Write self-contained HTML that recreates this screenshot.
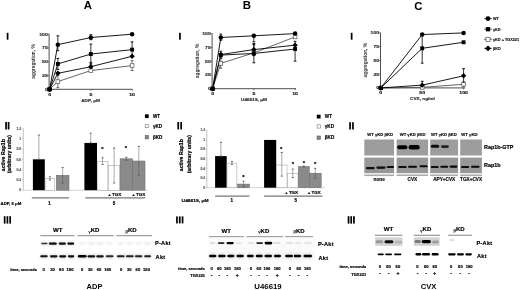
<!DOCTYPE html><html><head><meta charset="utf-8"><style>html,body{margin:0;padding:0;background:#fff;overflow:hidden}svg{display:block;filter:grayscale(1)}text{font-family:'Liberation Sans', sans-serif}</style></head><body>
<svg width="520" height="290" viewBox="0 0 520 290">
<rect width="520" height="290" fill="#fff"/>
<text x="87.9" y="8.9" font-size="11.4" text-anchor="middle" font-weight="bold" fill="#000" >A</text>
<text x="246.9" y="9.4" font-size="11.4" text-anchor="middle" font-weight="bold" fill="#000" >B</text>
<text x="418.3" y="9.6" font-size="11.4" text-anchor="middle" font-weight="bold" fill="#000" >C</text>
<defs><filter id="rb" x="-50%" y="-20%" width="200%" height="140%"><feGaussianBlur stdDeviation="0.25"/></filter></defs>
<rect x="6.75" y="32.8" width="1.7" height="6.900000000000006" fill="#000" filter="url(#rb)"/>
<rect x="179.1" y="32.8" width="1.7" height="6.900000000000006" fill="#000" filter="url(#rb)"/>
<rect x="350.8" y="32.8" width="1.7" height="6.900000000000006" fill="#000" filter="url(#rb)"/>
<rect x="5.2" y="122.0" width="1.7" height="7.5" fill="#000" filter="url(#rb)"/>
<rect x="7.75" y="122.0" width="1.7" height="7.5" fill="#000" filter="url(#rb)"/>
<rect x="177.4" y="122.0" width="1.7" height="7.5" fill="#000" filter="url(#rb)"/>
<rect x="180.3" y="122.0" width="1.7" height="7.5" fill="#000" filter="url(#rb)"/>
<rect x="349.2" y="122.2" width="1.7" height="7.299999999999997" fill="#000" filter="url(#rb)"/>
<rect x="352.1" y="122.2" width="1.7" height="7.299999999999997" fill="#000" filter="url(#rb)"/>
<rect x="3.8" y="216.2" width="1.7" height="7.400000000000006" fill="#000" filter="url(#rb)"/>
<rect x="6.55" y="216.2" width="1.7" height="7.400000000000006" fill="#000" filter="url(#rb)"/>
<rect x="9.3" y="216.2" width="1.7" height="7.400000000000006" fill="#000" filter="url(#rb)"/>
<rect x="176.1" y="216.4" width="1.7" height="7.0" fill="#000" filter="url(#rb)"/>
<rect x="178.9" y="216.4" width="1.7" height="7.0" fill="#000" filter="url(#rb)"/>
<rect x="181.7" y="216.4" width="1.7" height="7.0" fill="#000" filter="url(#rb)"/>
<rect x="347.7" y="216.2" width="1.7" height="7.400000000000006" fill="#000" filter="url(#rb)"/>
<rect x="350.35" y="216.2" width="1.7" height="7.400000000000006" fill="#000" filter="url(#rb)"/>
<rect x="353.1" y="216.2" width="1.7" height="7.400000000000006" fill="#000" filter="url(#rb)"/>
<line x1="49.1" y1="33.900000000000006" x2="49.1" y2="89.3" stroke="#222" stroke-width="0.8"/>
<line x1="49.1" y1="89.3" x2="132.5" y2="89.3" stroke="#222" stroke-width="0.8"/>
<line x1="47.5" y1="89.3" x2="49.1" y2="89.3" stroke="#222" stroke-width="0.6"/>
<text transform="translate(47.800000000000004,90.8) scale(1.2,1)" font-size="4.3" text-anchor="end" font-weight="bold" fill="#333"  stroke="#333" stroke-width="0.18">0</text>
<line x1="47.5" y1="75.525" x2="49.1" y2="75.525" stroke="#222" stroke-width="0.6"/>
<text transform="translate(47.800000000000004,77.025) scale(1.2,1)" font-size="4.3" text-anchor="end" font-weight="bold" fill="#333"  stroke="#333" stroke-width="0.18">25</text>
<line x1="47.5" y1="61.75" x2="49.1" y2="61.75" stroke="#222" stroke-width="0.6"/>
<text transform="translate(47.800000000000004,63.25) scale(1.2,1)" font-size="4.3" text-anchor="end" font-weight="bold" fill="#333"  stroke="#333" stroke-width="0.18">50</text>
<line x1="47.5" y1="47.974999999999994" x2="49.1" y2="47.974999999999994" stroke="#222" stroke-width="0.6"/>
<text transform="translate(47.800000000000004,49.474999999999994) scale(1.2,1)" font-size="4.3" text-anchor="end" font-weight="bold" fill="#333"  stroke="#333" stroke-width="0.18">75</text>
<line x1="47.5" y1="34.2" x2="49.1" y2="34.2" stroke="#222" stroke-width="0.6"/>
<text transform="translate(47.800000000000004,35.7) scale(1.2,1)" font-size="4.3" text-anchor="end" font-weight="bold" fill="#333"  stroke="#333" stroke-width="0.18">100</text>
<line x1="49.6" y1="89.3" x2="49.6" y2="90.8" stroke="#222" stroke-width="0.6"/>
<text transform="translate(49.6,95.7) scale(1.2,1)" font-size="4.3" text-anchor="middle" font-weight="bold" fill="#222"  stroke="#222" stroke-width="0.18">0</text>
<line x1="90.85" y1="89.3" x2="90.85" y2="90.8" stroke="#222" stroke-width="0.6"/>
<text transform="translate(90.85,95.7) scale(1.2,1)" font-size="4.3" text-anchor="middle" font-weight="bold" fill="#222"  stroke="#222" stroke-width="0.18">5</text>
<line x1="132.1" y1="89.3" x2="132.1" y2="90.8" stroke="#222" stroke-width="0.6"/>
<text transform="translate(132.1,95.7) scale(1.2,1)" font-size="4.3" text-anchor="middle" font-weight="bold" fill="#222"  stroke="#222" stroke-width="0.18">10</text>
<text transform="translate(90.6,101.6) scale(1.15,1)" font-size="4.1" text-anchor="middle" font-weight="bold" fill="#333"  stroke="#333" stroke-width="0.18">ADP, μM</text>
<text x="0" y="0" font-size="4.8" font-weight="bold" text-anchor="middle" fill="#333" transform="translate(35.4,61.5) rotate(-90)">aggregation, %</text>
<polyline points="49.60,89.30 57.85,81.59 90.85,70.57 132.10,65.61" fill="none" stroke="#555" stroke-width="0.9"/>
<polyline points="49.60,89.30 57.85,73.32 90.85,66.71 132.10,56.24" fill="none" stroke="#000" stroke-width="0.9"/>
<polyline points="49.60,89.30 57.85,63.95 90.85,54.04 132.10,49.63" fill="none" stroke="#000" stroke-width="0.9"/>
<polyline points="49.60,89.30 57.85,44.67 90.85,37.51 132.10,34.20" fill="none" stroke="#000" stroke-width="0.9"/>
<line x1="57.85" y1="75.525" x2="57.85" y2="87.64699999999999" stroke="#555" stroke-width="0.8"/>
<line x1="56.45" y1="75.525" x2="59.25" y2="75.525" stroke="#555" stroke-width="0.9"/>
<line x1="56.45" y1="87.64699999999999" x2="59.25" y2="87.64699999999999" stroke="#555" stroke-width="0.9"/>
<line x1="132.1" y1="60.647999999999996" x2="132.1" y2="70.566" stroke="#555" stroke-width="0.8"/>
<line x1="130.7" y1="60.647999999999996" x2="133.5" y2="60.647999999999996" stroke="#555" stroke-width="0.9"/>
<line x1="130.7" y1="70.566" x2="133.5" y2="70.566" stroke="#555" stroke-width="0.9"/>
<line x1="90.85" y1="62.301" x2="90.85" y2="71.117" stroke="#000" stroke-width="0.8"/>
<line x1="89.44999999999999" y1="62.301" x2="92.25" y2="62.301" stroke="#000" stroke-width="0.9"/>
<line x1="89.44999999999999" y1="71.117" x2="92.25" y2="71.117" stroke="#000" stroke-width="0.9"/>
<line x1="57.85" y1="58.444" x2="57.85" y2="69.464" stroke="#000" stroke-width="0.8"/>
<line x1="56.45" y1="58.444" x2="59.25" y2="58.444" stroke="#000" stroke-width="0.9"/>
<line x1="56.45" y1="69.464" x2="59.25" y2="69.464" stroke="#000" stroke-width="0.9"/>
<line x1="90.85" y1="44.118" x2="90.85" y2="63.95399999999999" stroke="#000" stroke-width="0.8"/>
<line x1="89.44999999999999" y1="44.118" x2="92.25" y2="44.118" stroke="#000" stroke-width="0.9"/>
<line x1="89.44999999999999" y1="63.95399999999999" x2="92.25" y2="63.95399999999999" stroke="#000" stroke-width="0.9"/>
<line x1="132.1" y1="41.914" x2="132.1" y2="56.24" stroke="#000" stroke-width="0.8"/>
<line x1="130.7" y1="41.914" x2="133.5" y2="41.914" stroke="#000" stroke-width="0.9"/>
<line x1="130.7" y1="56.24" x2="133.5" y2="56.24" stroke="#000" stroke-width="0.9"/>
<line x1="57.85" y1="35.853" x2="57.85" y2="50.730000000000004" stroke="#000" stroke-width="0.8"/>
<line x1="56.45" y1="35.853" x2="59.25" y2="35.853" stroke="#000" stroke-width="0.9"/>
<line x1="56.45" y1="50.730000000000004" x2="59.25" y2="50.730000000000004" stroke="#000" stroke-width="0.9"/>
<line x1="90.85" y1="34.751" x2="90.85" y2="39.71000000000001" stroke="#000" stroke-width="0.8"/>
<line x1="89.44999999999999" y1="34.751" x2="92.25" y2="34.751" stroke="#000" stroke-width="0.9"/>
<line x1="89.44999999999999" y1="39.71000000000001" x2="92.25" y2="39.71000000000001" stroke="#000" stroke-width="0.9"/>
<rect x="47.75" y="87.45" width="3.7" height="3.7" fill="#fff" stroke="#555" stroke-width="0.7" />
<rect x="56.0" y="79.736" width="3.7" height="3.7" fill="#fff" stroke="#555" stroke-width="0.7" />
<rect x="89.0" y="68.71600000000001" width="3.7" height="3.7" fill="#fff" stroke="#555" stroke-width="0.7" />
<rect x="130.25" y="63.757" width="3.7" height="3.7" fill="#fff" stroke="#555" stroke-width="0.7" />
<polygon points="49.6,86.6 52.300000000000004,89.3 49.6,92.0 46.9,89.3" fill="#000"/>
<polygon points="57.85,70.621 60.550000000000004,73.321 57.85,76.021 55.15,73.321" fill="#000"/>
<polygon points="90.85,64.009 93.55,66.709 90.85,69.409 88.14999999999999,66.709" fill="#000"/>
<polygon points="132.1,53.54 134.79999999999998,56.24 132.1,58.940000000000005 129.4,56.24" fill="#000"/>
<rect x="47.65" y="87.35" width="3.9" height="3.9" fill="#000" stroke="none" stroke-width="0" />
<rect x="55.9" y="62.00399999999999" width="3.9" height="3.9" fill="#000" stroke="none" stroke-width="0" />
<rect x="88.89999999999999" y="52.086" width="3.9" height="3.9" fill="#000" stroke="none" stroke-width="0" />
<rect x="130.15" y="47.678" width="3.9" height="3.9" fill="#000" stroke="none" stroke-width="0" />
<circle cx="49.6" cy="89.3" r="2.25" fill="#000"/>
<circle cx="57.85" cy="44.669000000000004" r="2.25" fill="#000"/>
<circle cx="90.85" cy="37.506" r="2.25" fill="#000"/>
<circle cx="132.1" cy="34.2" r="2.25" fill="#000"/>
<line x1="212.1" y1="33.300000000000004" x2="212.1" y2="88.7" stroke="#222" stroke-width="0.8"/>
<line x1="212.1" y1="88.7" x2="296" y2="88.7" stroke="#222" stroke-width="0.8"/>
<line x1="210.5" y1="88.7" x2="212.1" y2="88.7" stroke="#222" stroke-width="0.6"/>
<text transform="translate(210.79999999999998,90.2) scale(1.2,1)" font-size="4.3" text-anchor="end" font-weight="bold" fill="#333"  stroke="#333" stroke-width="0.18">0</text>
<line x1="210.5" y1="74.925" x2="212.1" y2="74.925" stroke="#222" stroke-width="0.6"/>
<text transform="translate(210.79999999999998,76.425) scale(1.2,1)" font-size="4.3" text-anchor="end" font-weight="bold" fill="#333"  stroke="#333" stroke-width="0.18">25</text>
<line x1="210.5" y1="61.150000000000006" x2="212.1" y2="61.150000000000006" stroke="#222" stroke-width="0.6"/>
<text transform="translate(210.79999999999998,62.650000000000006) scale(1.2,1)" font-size="4.3" text-anchor="end" font-weight="bold" fill="#333"  stroke="#333" stroke-width="0.18">50</text>
<line x1="210.5" y1="47.375" x2="212.1" y2="47.375" stroke="#222" stroke-width="0.6"/>
<text transform="translate(210.79999999999998,48.875) scale(1.2,1)" font-size="4.3" text-anchor="end" font-weight="bold" fill="#333"  stroke="#333" stroke-width="0.18">75</text>
<line x1="210.5" y1="33.6" x2="212.1" y2="33.6" stroke="#222" stroke-width="0.6"/>
<text transform="translate(210.79999999999998,35.1) scale(1.2,1)" font-size="4.3" text-anchor="end" font-weight="bold" fill="#333"  stroke="#333" stroke-width="0.18">100</text>
<line x1="212.6" y1="88.7" x2="212.6" y2="90.2" stroke="#222" stroke-width="0.6"/>
<text transform="translate(212.6,95.10000000000001) scale(1.2,1)" font-size="4.3" text-anchor="middle" font-weight="bold" fill="#222"  stroke="#222" stroke-width="0.18">0</text>
<line x1="253.85" y1="88.7" x2="253.85" y2="90.2" stroke="#222" stroke-width="0.6"/>
<text transform="translate(253.85,95.10000000000001) scale(1.2,1)" font-size="4.3" text-anchor="middle" font-weight="bold" fill="#222"  stroke="#222" stroke-width="0.18">5</text>
<line x1="295.1" y1="88.7" x2="295.1" y2="90.2" stroke="#222" stroke-width="0.6"/>
<text transform="translate(295.1,95.10000000000001) scale(1.2,1)" font-size="4.3" text-anchor="middle" font-weight="bold" fill="#222"  stroke="#222" stroke-width="0.18">10</text>
<text transform="translate(254,101.0) scale(1.15,1)" font-size="4.1" text-anchor="middle" font-weight="bold" fill="#333"  stroke="#333" stroke-width="0.18">U46619, μM</text>
<text x="0" y="0" font-size="4.8" font-weight="bold" text-anchor="middle" fill="#333" transform="translate(199.2,61.0) rotate(-90)">aggregation, %</text>
<polyline points="212.60,88.70 220.85,63.35 253.85,52.89 295.10,36.91" fill="none" stroke="#555" stroke-width="0.9"/>
<polyline points="212.60,88.70 220.85,54.54 253.85,49.58 295.10,45.17" fill="none" stroke="#000" stroke-width="0.9"/>
<polyline points="212.60,88.70 220.85,55.09 253.85,53.44 295.10,49.03" fill="none" stroke="#000" stroke-width="0.9"/>
<polyline points="212.60,88.70 220.85,37.46 253.85,35.80 295.10,33.60" fill="none" stroke="#000" stroke-width="0.9"/>
<line x1="220.85" y1="58.395" x2="220.85" y2="68.313" stroke="#555" stroke-width="0.8"/>
<line x1="219.45" y1="58.395" x2="222.25" y2="58.395" stroke="#555" stroke-width="0.9"/>
<line x1="219.45" y1="68.313" x2="222.25" y2="68.313" stroke="#555" stroke-width="0.9"/>
<line x1="253.85" y1="43.51800000000001" x2="253.85" y2="55.64" stroke="#000" stroke-width="0.8"/>
<line x1="252.45" y1="43.51800000000001" x2="255.25" y2="43.51800000000001" stroke="#000" stroke-width="0.9"/>
<line x1="252.45" y1="55.64" x2="255.25" y2="55.64" stroke="#000" stroke-width="0.9"/>
<line x1="220.85" y1="51.232" x2="220.85" y2="57.84400000000001" stroke="#000" stroke-width="0.8"/>
<line x1="219.45" y1="51.232" x2="222.25" y2="51.232" stroke="#000" stroke-width="0.9"/>
<line x1="219.45" y1="57.84400000000001" x2="222.25" y2="57.84400000000001" stroke="#000" stroke-width="0.9"/>
<line x1="253.85" y1="44.620000000000005" x2="253.85" y2="62.803" stroke="#000" stroke-width="0.8"/>
<line x1="252.45" y1="44.620000000000005" x2="255.25" y2="44.620000000000005" stroke="#000" stroke-width="0.9"/>
<line x1="252.45" y1="62.803" x2="255.25" y2="62.803" stroke="#000" stroke-width="0.9"/>
<line x1="295.1" y1="41.314" x2="295.1" y2="61.150000000000006" stroke="#000" stroke-width="0.8"/>
<line x1="293.70000000000005" y1="41.314" x2="296.5" y2="41.314" stroke="#000" stroke-width="0.9"/>
<line x1="293.70000000000005" y1="61.150000000000006" x2="296.5" y2="61.150000000000006" stroke="#000" stroke-width="0.9"/>
<line x1="220.85" y1="34.150999999999996" x2="220.85" y2="40.212" stroke="#000" stroke-width="0.8"/>
<line x1="219.45" y1="34.150999999999996" x2="222.25" y2="34.150999999999996" stroke="#000" stroke-width="0.9"/>
<line x1="219.45" y1="40.212" x2="222.25" y2="40.212" stroke="#000" stroke-width="0.9"/>
<line x1="253.85" y1="34.702" x2="253.85" y2="41.865" stroke="#000" stroke-width="0.8"/>
<line x1="252.45" y1="34.702" x2="255.25" y2="34.702" stroke="#000" stroke-width="0.9"/>
<line x1="252.45" y1="41.865" x2="255.25" y2="41.865" stroke="#000" stroke-width="0.9"/>
<rect x="210.75" y="86.85000000000001" width="3.7" height="3.7" fill="#fff" stroke="#555" stroke-width="0.7" />
<rect x="219.0" y="61.504" width="3.7" height="3.7" fill="#fff" stroke="#555" stroke-width="0.7" />
<rect x="252.0" y="51.035000000000004" width="3.7" height="3.7" fill="#fff" stroke="#555" stroke-width="0.7" />
<rect x="293.25" y="35.056" width="3.7" height="3.7" fill="#fff" stroke="#555" stroke-width="0.7" />
<polygon points="212.6,86.0 215.29999999999998,88.7 212.6,91.4 209.9,88.7" fill="#000"/>
<polygon points="220.85,51.837999999999994 223.54999999999998,54.538 220.85,57.238 218.15,54.538" fill="#000"/>
<polygon points="253.85,46.879 256.55,49.579 253.85,52.279 251.15,49.579" fill="#000"/>
<polygon points="295.1,42.471 297.8,45.171 295.1,47.871 292.40000000000003,45.171" fill="#000"/>
<rect x="210.65" y="86.75" width="3.9" height="3.9" fill="#000" stroke="none" stroke-width="0" />
<rect x="218.9" y="53.139" width="3.9" height="3.9" fill="#000" stroke="none" stroke-width="0" />
<rect x="251.9" y="51.486" width="3.9" height="3.9" fill="#000" stroke="none" stroke-width="0" />
<rect x="293.15000000000003" y="47.077999999999996" width="3.9" height="3.9" fill="#000" stroke="none" stroke-width="0" />
<circle cx="212.6" cy="88.7" r="2.25" fill="#000"/>
<circle cx="220.85" cy="37.457" r="2.25" fill="#000"/>
<circle cx="253.85" cy="35.804" r="2.25" fill="#000"/>
<circle cx="295.1" cy="33.6" r="2.25" fill="#000"/>
<line x1="380.5" y1="32.6" x2="380.5" y2="87.9" stroke="#222" stroke-width="0.8"/>
<line x1="380.5" y1="87.9" x2="465" y2="87.9" stroke="#222" stroke-width="0.8"/>
<line x1="378.9" y1="87.9" x2="380.5" y2="87.9" stroke="#222" stroke-width="0.6"/>
<text transform="translate(379.2,89.4) scale(1.2,1)" font-size="4.3" text-anchor="end" font-weight="bold" fill="#333"  stroke="#333" stroke-width="0.18">0</text>
<line x1="378.9" y1="74.15" x2="380.5" y2="74.15" stroke="#222" stroke-width="0.6"/>
<text transform="translate(379.2,75.65) scale(1.2,1)" font-size="4.3" text-anchor="end" font-weight="bold" fill="#333"  stroke="#333" stroke-width="0.18">25</text>
<line x1="378.9" y1="60.400000000000006" x2="380.5" y2="60.400000000000006" stroke="#222" stroke-width="0.6"/>
<text transform="translate(379.2,61.900000000000006) scale(1.2,1)" font-size="4.3" text-anchor="end" font-weight="bold" fill="#333"  stroke="#333" stroke-width="0.18">50</text>
<line x1="378.9" y1="46.65" x2="380.5" y2="46.65" stroke="#222" stroke-width="0.6"/>
<text transform="translate(379.2,48.15) scale(1.2,1)" font-size="4.3" text-anchor="end" font-weight="bold" fill="#333"  stroke="#333" stroke-width="0.18">75</text>
<line x1="378.9" y1="32.9" x2="380.5" y2="32.9" stroke="#222" stroke-width="0.6"/>
<text transform="translate(379.2,34.4) scale(1.2,1)" font-size="4.3" text-anchor="end" font-weight="bold" fill="#333"  stroke="#333" stroke-width="0.18">100</text>
<line x1="380.8" y1="87.9" x2="380.8" y2="89.4" stroke="#222" stroke-width="0.6"/>
<text transform="translate(380.8,94.30000000000001) scale(1.2,1)" font-size="4.3" text-anchor="middle" font-weight="bold" fill="#222"  stroke="#222" stroke-width="0.18">0</text>
<line x1="422.2" y1="87.9" x2="422.2" y2="89.4" stroke="#222" stroke-width="0.6"/>
<text transform="translate(422.2,94.30000000000001) scale(1.2,1)" font-size="4.3" text-anchor="middle" font-weight="bold" fill="#222"  stroke="#222" stroke-width="0.18">50</text>
<line x1="463.6" y1="87.9" x2="463.6" y2="89.4" stroke="#222" stroke-width="0.6"/>
<text transform="translate(463.6,94.30000000000001) scale(1.2,1)" font-size="4.3" text-anchor="middle" font-weight="bold" fill="#222"  stroke="#222" stroke-width="0.18">100</text>
<text transform="translate(422.4,100.2) scale(1.15,1)" font-size="4.1" text-anchor="middle" font-weight="bold" fill="#333"  stroke="#333" stroke-width="0.18">CVX, ng/ml</text>
<text x="0" y="0" font-size="4.8" font-weight="bold" text-anchor="middle" fill="#333" transform="translate(366.8,60.2) rotate(-90)">aggregation, %</text>
<polyline points="380.80,87.90 422.20,87.35 463.60,84.33" fill="none" stroke="#555" stroke-width="0.9"/>
<polyline points="380.80,87.90 422.20,85.15 463.60,75.80" fill="none" stroke="#000" stroke-width="0.9"/>
<polyline points="380.80,87.90 422.20,48.30 463.60,42.25" fill="none" stroke="#000" stroke-width="0.9"/>
<polyline points="380.80,87.90 422.20,34.55 463.60,32.90" fill="none" stroke="#000" stroke-width="0.9"/>
<line x1="463.6" y1="81.85000000000001" x2="463.6" y2="86.80000000000001" stroke="#555" stroke-width="0.8"/>
<line x1="462.20000000000005" y1="81.85000000000001" x2="465.0" y2="81.85000000000001" stroke="#555" stroke-width="0.9"/>
<line x1="462.20000000000005" y1="86.80000000000001" x2="465.0" y2="86.80000000000001" stroke="#555" stroke-width="0.9"/>
<line x1="422.2" y1="81.30000000000001" x2="422.2" y2="87.9" stroke="#000" stroke-width="0.8"/>
<line x1="420.8" y1="81.30000000000001" x2="423.59999999999997" y2="81.30000000000001" stroke="#000" stroke-width="0.9"/>
<line x1="420.8" y1="87.9" x2="423.59999999999997" y2="87.9" stroke="#000" stroke-width="0.9"/>
<line x1="463.6" y1="68.65" x2="463.6" y2="82.4" stroke="#000" stroke-width="0.8"/>
<line x1="462.20000000000005" y1="68.65" x2="465.0" y2="68.65" stroke="#000" stroke-width="0.9"/>
<line x1="462.20000000000005" y1="82.4" x2="465.0" y2="82.4" stroke="#000" stroke-width="0.9"/>
<line x1="422.2" y1="34.0" x2="422.2" y2="63.150000000000006" stroke="#000" stroke-width="0.8"/>
<line x1="420.8" y1="34.0" x2="423.59999999999997" y2="34.0" stroke="#000" stroke-width="0.9"/>
<line x1="420.8" y1="63.150000000000006" x2="423.59999999999997" y2="63.150000000000006" stroke="#000" stroke-width="0.9"/>
<rect x="378.95" y="86.05000000000001" width="3.7" height="3.7" fill="#fff" stroke="#555" stroke-width="0.7" />
<rect x="420.34999999999997" y="85.50000000000001" width="3.7" height="3.7" fill="#fff" stroke="#555" stroke-width="0.7" />
<rect x="461.75" y="82.47500000000001" width="3.7" height="3.7" fill="#fff" stroke="#555" stroke-width="0.7" />
<polygon points="380.8,85.2 383.5,87.9 380.8,90.60000000000001 378.1,87.9" fill="#000"/>
<polygon points="422.2,82.45 424.9,85.15 422.2,87.85000000000001 419.5,85.15" fill="#000"/>
<polygon points="463.6,73.10000000000001 466.3,75.80000000000001 463.6,78.50000000000001 460.90000000000003,75.80000000000001" fill="#000"/>
<rect x="378.85" y="85.95" width="3.9" height="3.9" fill="#000" stroke="none" stroke-width="0" />
<rect x="420.25" y="46.35" width="3.9" height="3.9" fill="#000" stroke="none" stroke-width="0" />
<rect x="461.65000000000003" y="40.3" width="3.9" height="3.9" fill="#000" stroke="none" stroke-width="0" />
<circle cx="380.8" cy="87.9" r="2.25" fill="#000"/>
<circle cx="422.2" cy="34.55" r="2.25" fill="#000"/>
<circle cx="463.6" cy="32.9" r="2.25" fill="#000"/>
<line x1="484.2" y1="18.6" x2="491.8" y2="18.6" stroke="#000" stroke-width="0.7"/>
<circle cx="488" cy="18.6" r="2.475" fill="#000"/>
<text x="493.0" y="20.0" font-size="3.8" text-anchor="start" font-weight="bold" fill="#222"  stroke="#222" stroke-width="0.18">WT</text>
<line x1="484.2" y1="29.2" x2="491.8" y2="29.2" stroke="#000" stroke-width="0.7"/>
<rect x="485.855" y="27.055" width="4.29" height="4.29" fill="#000" stroke="none" stroke-width="0" />
<text x="493.0" y="30.599999999999998" font-size="3.8" text-anchor="start" font-weight="bold" fill="#222"  stroke="#222" stroke-width="0.18">γKD</text>
<line x1="484.2" y1="39.3" x2="491.8" y2="39.3" stroke="#000" stroke-width="0.7"/>
<rect x="485.965" y="37.265" width="4.07" height="4.07" fill="#fff" stroke="#555" stroke-width="0.7" />
<text x="493.0" y="40.699999999999996" font-size="3.8" text-anchor="start" font-weight="bold" fill="#222"  stroke="#222" stroke-width="0.18">γKD + TGX221</text>
<line x1="484.2" y1="48.4" x2="491.8" y2="48.4" stroke="#000" stroke-width="0.7"/>
<polygon points="488,45.43 490.97,48.4 488,51.37 485.03,48.4" fill="#000"/>
<text x="493.0" y="49.8" font-size="3.8" text-anchor="start" font-weight="bold" fill="#222"  stroke="#222" stroke-width="0.18">βKD</text>
<defs><filter id="bl" x="-20%" y="-50%" width="140%" height="200%"><feGaussianBlur stdDeviation="0.45"/></filter><filter id="bl2" x="-20%" y="-50%" width="140%" height="200%"><feGaussianBlur stdDeviation="0.8"/></filter></defs>
<text font-size="5.2" font-weight="bold" text-anchor="middle" stroke="#000" stroke-width="0.18" transform="translate(5.4,155.2) rotate(-90)">active Rap1b</text>
<text font-size="5.2" font-weight="bold" text-anchor="middle" stroke="#000" stroke-width="0.18" transform="translate(11.2,154.2) rotate(-90)">(arbitrary units)</text>
<line x1="23.3" y1="128.39999999999998" x2="23.3" y2="190.2" stroke="#888" stroke-width="0.5"/>
<line x1="23.3" y1="190.2" x2="147.4" y2="190.2" stroke="#aaa" stroke-width="0.5"/>
<line x1="22.1" y1="190.2" x2="23.3" y2="190.2" stroke="#888" stroke-width="0.4"/>
<text x="21.2" y="191.39999999999998" font-size="3.4" text-anchor="end" font-weight="bold" fill="#666"  stroke="#666" stroke-width="0.18">0</text>
<line x1="22.1" y1="179.89999999999998" x2="23.3" y2="179.89999999999998" stroke="#888" stroke-width="0.4"/>
<text x="21.2" y="181.09999999999997" font-size="3.4" text-anchor="end" font-weight="bold" fill="#666"  stroke="#666" stroke-width="0.18">0.2</text>
<line x1="22.1" y1="169.6" x2="23.3" y2="169.6" stroke="#888" stroke-width="0.4"/>
<text x="21.2" y="170.79999999999998" font-size="3.4" text-anchor="end" font-weight="bold" fill="#666"  stroke="#666" stroke-width="0.18">0.4</text>
<line x1="22.1" y1="159.29999999999998" x2="23.3" y2="159.29999999999998" stroke="#888" stroke-width="0.4"/>
<text x="21.2" y="160.49999999999997" font-size="3.4" text-anchor="end" font-weight="bold" fill="#666"  stroke="#666" stroke-width="0.18">0.6</text>
<line x1="22.1" y1="149.0" x2="23.3" y2="149.0" stroke="#888" stroke-width="0.4"/>
<text x="21.2" y="150.2" font-size="3.4" text-anchor="end" font-weight="bold" fill="#666"  stroke="#666" stroke-width="0.18">0.8</text>
<line x1="22.1" y1="138.7" x2="23.3" y2="138.7" stroke="#888" stroke-width="0.4"/>
<text x="21.2" y="139.89999999999998" font-size="3.4" text-anchor="end" font-weight="bold" fill="#666"  stroke="#666" stroke-width="0.18">1</text>
<line x1="22.1" y1="128.39999999999998" x2="23.3" y2="128.39999999999998" stroke="#888" stroke-width="0.4"/>
<text x="21.2" y="129.59999999999997" font-size="3.4" text-anchor="end" font-weight="bold" fill="#666"  stroke="#666" stroke-width="0.18">1.2</text>
<rect x="32.9" y="159.29999999999998" width="11.899999999999999" height="30.900000000000006" fill="#000" stroke="none" stroke-width="0" />
<line x1="38.849999999999994" y1="135.095" x2="38.849999999999994" y2="159.29999999999998" stroke="#555" stroke-width="0.5"/>
<line x1="37.849999999999994" y1="135.095" x2="39.849999999999994" y2="135.095" stroke="#555" stroke-width="0.9"/>
<line x1="37.849999999999994" y1="159.29999999999998" x2="39.849999999999994" y2="159.29999999999998" stroke="#555" stroke-width="0.9"/>
<rect x="45.099999999999994" y="178.355" width="9.600000000000003" height="11.844999999999999" fill="#fff" stroke="#999" stroke-width="0.5" />
<line x1="49.9" y1="176.81" x2="49.9" y2="179.89999999999998" stroke="#555" stroke-width="0.5"/>
<line x1="48.9" y1="176.81" x2="50.9" y2="176.81" stroke="#555" stroke-width="0.9"/>
<line x1="48.9" y1="179.89999999999998" x2="50.9" y2="179.89999999999998" stroke="#555" stroke-width="0.9"/>
<rect x="56.3" y="175.265" width="12.700000000000003" height="14.935000000000002" fill="#8a8a8a" stroke="#666" stroke-width="0.5" />
<line x1="62.65" y1="167.54" x2="62.65" y2="182.98999999999998" stroke="#555" stroke-width="0.5"/>
<line x1="61.65" y1="167.54" x2="63.65" y2="167.54" stroke="#555" stroke-width="0.9"/>
<line x1="61.65" y1="182.98999999999998" x2="63.65" y2="182.98999999999998" stroke="#555" stroke-width="0.9"/>
<rect x="84.4" y="142.923" width="12.599999999999994" height="47.27699999999999" fill="#000" stroke="none" stroke-width="0" />
<line x1="90.7" y1="133.1895" x2="90.7" y2="142.923" stroke="#555" stroke-width="0.5"/>
<line x1="89.7" y1="133.1895" x2="91.7" y2="133.1895" stroke="#555" stroke-width="0.9"/>
<line x1="89.7" y1="142.923" x2="91.7" y2="142.923" stroke="#555" stroke-width="0.9"/>
<rect x="97.2" y="161.35999999999999" width="10.699999999999998" height="28.840000000000003" fill="#fff" stroke="#999" stroke-width="0.5" />
<line x1="102.55000000000001" y1="157.755" x2="102.55000000000001" y2="164.45" stroke="#555" stroke-width="0.5"/>
<line x1="101.55000000000001" y1="157.755" x2="103.55000000000001" y2="157.755" stroke="#555" stroke-width="0.9"/>
<line x1="101.55000000000001" y1="164.45" x2="103.55000000000001" y2="164.45" stroke="#555" stroke-width="0.9"/>
<rect x="108.5" y="165.48" width="11.299999999999992" height="24.72" fill="#fff" stroke="#999" stroke-width="0.5" />
<line x1="114.15" y1="147.97" x2="114.15" y2="182.98999999999998" stroke="#555" stroke-width="0.5"/>
<line x1="113.15" y1="147.97" x2="115.15" y2="147.97" stroke="#555" stroke-width="0.9"/>
<line x1="113.15" y1="182.98999999999998" x2="115.15" y2="182.98999999999998" stroke="#555" stroke-width="0.9"/>
<rect x="120.1" y="158.785" width="12.5" height="31.414999999999992" fill="#8a8a8a" stroke="#666" stroke-width="0.5" />
<line x1="126.35" y1="157.23999999999998" x2="126.35" y2="160.32999999999998" stroke="#555" stroke-width="0.5"/>
<line x1="125.35" y1="157.23999999999998" x2="127.35" y2="157.23999999999998" stroke="#555" stroke-width="0.9"/>
<line x1="125.35" y1="160.32999999999998" x2="127.35" y2="160.32999999999998" stroke="#555" stroke-width="0.9"/>
<rect x="132.6" y="160.99949999999998" width="12.400000000000006" height="29.200500000000005" fill="#8a8a8a" stroke="#666" stroke-width="0.5" />
<line x1="138.8" y1="146.42499999999998" x2="138.8" y2="175.77999999999997" stroke="#555" stroke-width="0.5"/>
<line x1="137.8" y1="146.42499999999998" x2="139.8" y2="146.42499999999998" stroke="#555" stroke-width="0.9"/>
<line x1="137.8" y1="175.77999999999997" x2="139.8" y2="175.77999999999997" stroke="#555" stroke-width="0.9"/>
<line x1="31.8" y1="197.9" x2="69" y2="197.9" stroke="#777" stroke-width="1.3"/>
<line x1="85.3" y1="197.9" x2="145.4" y2="197.9" stroke="#777" stroke-width="1.3"/>
<text x="49.5" y="204.6" font-size="4.5" text-anchor="middle" font-weight="bold" fill="#000"  stroke="#000" stroke-width="0.18">1</text>
<text x="113.9" y="204.6" font-size="4.5" text-anchor="middle" font-weight="bold" fill="#000"  stroke="#000" stroke-width="0.18">5</text>
<text x="0.6" y="204.6" font-size="4.3" text-anchor="start" font-weight="bold" fill="#000"  stroke="#000" stroke-width="0.18">ADP, 5 μM</text>
<text x="114.7" y="195.6" font-size="4.4" text-anchor="middle" font-weight="bold" fill="#000"  stroke="#000" stroke-width="0.18">+ TGX</text>
<text x="138.7" y="195.6" font-size="4.4" text-anchor="middle" font-weight="bold" fill="#000"  stroke="#000" stroke-width="0.18">+ TGX</text>
<text x="102.5" y="150.5" font-size="6.0" text-anchor="middle" font-weight="bold" fill="#000"  stroke="#000" stroke-width="0.18">*</text>
<text x="125.9" y="150.0" font-size="6.0" text-anchor="middle" font-weight="bold" fill="#000"  stroke="#000" stroke-width="0.18">*</text>
<rect x="144.9" y="114.3" width="3.8" height="3.8" fill="#000" stroke="none" stroke-width="0" />
<text x="152.9" y="117.9" font-size="4.6" text-anchor="start" font-weight="bold" fill="#000"  stroke="#000" stroke-width="0.18">WT</text>
<rect x="145.20000000000002" y="124.4" width="3.3" height="3.3" fill="#fff" stroke="#777" stroke-width="0.6" />
<text x="152.9" y="127.7" font-size="4.6" text-anchor="start" font-weight="bold" fill="#000"  stroke="#000" stroke-width="0.18">γKD</text>
<rect x="145.20000000000002" y="135.6" width="3.3" height="3.3" fill="#888" stroke="#555" stroke-width="0.6" />
<text x="152.9" y="138.89999999999998" font-size="4.6" text-anchor="start" font-weight="bold" fill="#000"  stroke="#000" stroke-width="0.18">βKD</text>
<text font-size="5.2" font-weight="bold" text-anchor="middle" stroke="#000" stroke-width="0.18" transform="translate(183.3,155.2) rotate(-90)">active Rap1b</text>
<text font-size="5.2" font-weight="bold" text-anchor="middle" stroke="#000" stroke-width="0.18" transform="translate(191.0,154.2) rotate(-90)">(arbitrary units)</text>
<line x1="206.8" y1="129.8" x2="206.8" y2="187.7" stroke="#888" stroke-width="0.5"/>
<line x1="206.8" y1="187.7" x2="324.5" y2="187.7" stroke="#aaa" stroke-width="0.5"/>
<line x1="205.60000000000002" y1="187.7" x2="206.8" y2="187.7" stroke="#888" stroke-width="0.4"/>
<text x="205.2" y="188.89999999999998" font-size="3.4" text-anchor="end" font-weight="bold" fill="#666"  stroke="#666" stroke-width="0.18">0</text>
<line x1="205.60000000000002" y1="178.04999999999998" x2="206.8" y2="178.04999999999998" stroke="#888" stroke-width="0.4"/>
<text x="205.2" y="179.24999999999997" font-size="3.4" text-anchor="end" font-weight="bold" fill="#666"  stroke="#666" stroke-width="0.18">0.2</text>
<line x1="205.60000000000002" y1="168.39999999999998" x2="206.8" y2="168.39999999999998" stroke="#888" stroke-width="0.4"/>
<text x="205.2" y="169.59999999999997" font-size="3.4" text-anchor="end" font-weight="bold" fill="#666"  stroke="#666" stroke-width="0.18">0.4</text>
<line x1="205.60000000000002" y1="158.75" x2="206.8" y2="158.75" stroke="#888" stroke-width="0.4"/>
<text x="205.2" y="159.95" font-size="3.4" text-anchor="end" font-weight="bold" fill="#666"  stroke="#666" stroke-width="0.18">0.6</text>
<line x1="205.60000000000002" y1="149.1" x2="206.8" y2="149.1" stroke="#888" stroke-width="0.4"/>
<text x="205.2" y="150.29999999999998" font-size="3.4" text-anchor="end" font-weight="bold" fill="#666"  stroke="#666" stroke-width="0.18">0.8</text>
<line x1="205.60000000000002" y1="139.45" x2="206.8" y2="139.45" stroke="#888" stroke-width="0.4"/>
<text x="205.2" y="140.64999999999998" font-size="3.4" text-anchor="end" font-weight="bold" fill="#666"  stroke="#666" stroke-width="0.18">1</text>
<line x1="205.60000000000002" y1="129.8" x2="206.8" y2="129.8" stroke="#888" stroke-width="0.4"/>
<text x="205.2" y="131.0" font-size="3.4" text-anchor="end" font-weight="bold" fill="#666"  stroke="#666" stroke-width="0.18">1.2</text>
<rect x="215.1" y="156.09625" width="11.599999999999994" height="31.60374999999999" fill="#000" stroke="none" stroke-width="0" />
<line x1="220.89999999999998" y1="142.345" x2="220.89999999999998" y2="156.09625" stroke="#555" stroke-width="0.5"/>
<line x1="219.89999999999998" y1="142.345" x2="221.89999999999998" y2="142.345" stroke="#555" stroke-width="0.9"/>
<line x1="219.89999999999998" y1="156.09625" x2="221.89999999999998" y2="156.09625" stroke="#555" stroke-width="0.9"/>
<rect x="227.0" y="163.0925" width="9.9" height="24.607499999999987" fill="#fff" stroke="#999" stroke-width="0.5" />
<line x1="231.95" y1="161.64499999999998" x2="231.95" y2="164.29874999999998" stroke="#555" stroke-width="0.5"/>
<line x1="230.95" y1="161.64499999999998" x2="232.95" y2="161.64499999999998" stroke="#555" stroke-width="0.9"/>
<line x1="230.95" y1="164.29874999999998" x2="232.95" y2="164.29874999999998" stroke="#555" stroke-width="0.9"/>
<rect x="237.7" y="184.08124999999998" width="11.800000000000011" height="3.6187500000000057" fill="#8a8a8a" stroke="#666" stroke-width="0.5" />
<line x1="243.6" y1="181.18625" x2="243.6" y2="186.73499999999999" stroke="#555" stroke-width="0.5"/>
<line x1="242.6" y1="181.18625" x2="244.6" y2="181.18625" stroke="#555" stroke-width="0.9"/>
<line x1="242.6" y1="186.73499999999999" x2="244.6" y2="186.73499999999999" stroke="#555" stroke-width="0.9"/>
<rect x="264.1" y="139.9325" width="12.099999999999966" height="47.767499999999984" fill="#000" stroke="none" stroke-width="0" />
<rect x="276.5" y="165.02249999999998" width="10.500000000000023" height="22.67750000000001" fill="#fff" stroke="#999" stroke-width="0.5" />
<line x1="281.75" y1="152.4775" x2="281.75" y2="176.11999999999998" stroke="#555" stroke-width="0.5"/>
<line x1="280.75" y1="152.4775" x2="282.75" y2="152.4775" stroke="#555" stroke-width="0.9"/>
<line x1="280.75" y1="176.11999999999998" x2="282.75" y2="176.11999999999998" stroke="#555" stroke-width="0.9"/>
<rect x="287.6" y="173.225" width="10.4" height="14.474999999999994" fill="#fff" stroke="#999" stroke-width="0.5" />
<line x1="292.8" y1="169.12374999999997" x2="292.8" y2="177.5675" stroke="#555" stroke-width="0.5"/>
<line x1="291.8" y1="169.12374999999997" x2="293.8" y2="169.12374999999997" stroke="#555" stroke-width="0.9"/>
<line x1="291.8" y1="177.5675" x2="293.8" y2="177.5675" stroke="#555" stroke-width="0.9"/>
<rect x="298.3" y="166.47" width="11.0" height="21.22999999999999" fill="#8a8a8a" stroke="#666" stroke-width="0.5" />
<line x1="303.8" y1="165.98749999999998" x2="303.8" y2="166.9525" stroke="#555" stroke-width="0.5"/>
<line x1="302.8" y1="165.98749999999998" x2="304.8" y2="165.98749999999998" stroke="#555" stroke-width="0.9"/>
<line x1="302.8" y1="166.9525" x2="304.8" y2="166.9525" stroke="#555" stroke-width="0.9"/>
<rect x="309.3" y="173.225" width="11.899999999999977" height="14.474999999999994" fill="#8a8a8a" stroke="#666" stroke-width="0.5" />
<line x1="315.25" y1="168.39999999999998" x2="315.25" y2="178.04999999999998" stroke="#555" stroke-width="0.5"/>
<line x1="314.25" y1="168.39999999999998" x2="316.25" y2="168.39999999999998" stroke="#555" stroke-width="0.9"/>
<line x1="314.25" y1="178.04999999999998" x2="316.25" y2="178.04999999999998" stroke="#555" stroke-width="0.9"/>
<line x1="215.1" y1="196.2" x2="249.5" y2="196.2" stroke="#777" stroke-width="1.3"/>
<line x1="264.1" y1="196.2" x2="322.5" y2="196.2" stroke="#777" stroke-width="1.3"/>
<text x="231.7" y="202.0" font-size="4.5" text-anchor="middle" font-weight="bold" fill="#000"  stroke="#000" stroke-width="0.18">1</text>
<text x="295.8" y="202.0" font-size="4.5" text-anchor="middle" font-weight="bold" fill="#000"  stroke="#000" stroke-width="0.18">5</text>
<text transform="translate(181.6,202.0) scale(1.14,1)" font-size="4.3" text-anchor="start" font-weight="bold" fill="#000"  stroke="#000" stroke-width="0.18">U46619, μM</text>
<text x="291.5" y="193.8" font-size="4.4" text-anchor="middle" font-weight="bold" fill="#000"  stroke="#000" stroke-width="0.18">+ TGX</text>
<text x="314.2" y="193.8" font-size="4.4" text-anchor="middle" font-weight="bold" fill="#000"  stroke="#000" stroke-width="0.18">+ TGX</text>
<text x="243.5" y="178.70000000000002" font-size="6.0" text-anchor="middle" font-weight="bold" fill="#000"  stroke="#000" stroke-width="0.18">*</text>
<text x="281.2" y="150.9" font-size="6.0" text-anchor="middle" font-weight="bold" fill="#000"  stroke="#000" stroke-width="0.18">*</text>
<text x="292.8" y="166.1" font-size="6.0" text-anchor="middle" font-weight="bold" fill="#000"  stroke="#000" stroke-width="0.18">*</text>
<text x="303.8" y="164.70000000000002" font-size="6.0" text-anchor="middle" font-weight="bold" fill="#000"  stroke="#000" stroke-width="0.18">*</text>
<text x="315.1" y="166.1" font-size="6.0" text-anchor="middle" font-weight="bold" fill="#000"  stroke="#000" stroke-width="0.18">*</text>
<rect x="316.8" y="114.69999999999999" width="3.8" height="3.8" fill="#000" stroke="none" stroke-width="0" />
<text x="324.8" y="118.3" font-size="4.6" text-anchor="start" font-weight="bold" fill="#000"  stroke="#000" stroke-width="0.18">WT</text>
<rect x="317.1" y="124.80000000000001" width="3.3" height="3.3" fill="#fff" stroke="#777" stroke-width="0.6" />
<text x="324.8" y="128.1" font-size="4.6" text-anchor="start" font-weight="bold" fill="#000"  stroke="#000" stroke-width="0.18">γKD</text>
<rect x="317.1" y="136.0" width="3.3" height="3.3" fill="#888" stroke="#555" stroke-width="0.6" />
<text x="324.8" y="139.29999999999998" font-size="4.6" text-anchor="start" font-weight="bold" fill="#000"  stroke="#000" stroke-width="0.18">βKD</text>
<text x="380.2" y="136.1" font-size="4.3" font-weight="bold" text-anchor="middle" textLength="25.8" lengthAdjust="spacingAndGlyphs" fill="#111" stroke="#111" stroke-width="0.18">WT γKD βKD</text>
<rect x="364.3" y="139.5" width="29.80000000000001" height="16" fill="#9d9d9d"/>
<rect x="364.3" y="157.6" width="29.80000000000001" height="15.6" fill="#979797"/>
<line x1="364.3" y1="175.3" x2="394.1" y2="175.3" stroke="#aaa" stroke-width="1.6"/>
<text x="379.20000000000005" y="180.7" font-size="4.7" text-anchor="middle" font-weight="bold" fill="#111"  stroke="#111" stroke-width="0.18">none</text>
<text x="412.6" y="136.1" font-size="4.3" font-weight="bold" text-anchor="middle" textLength="25.8" lengthAdjust="spacingAndGlyphs" fill="#111" stroke="#111" stroke-width="0.18">WT γKD βKD</text>
<rect x="396.6" y="139.5" width="31.5" height="16" fill="#9d9d9d"/>
<rect x="396.6" y="157.6" width="31.5" height="15.6" fill="#979797"/>
<line x1="396.6" y1="175.3" x2="428.1" y2="175.3" stroke="#aaa" stroke-width="1.6"/>
<text x="412.35" y="180.7" font-size="4.7" text-anchor="middle" font-weight="bold" fill="#111"  stroke="#111" stroke-width="0.18">CVX</text>
<text x="444.0" y="136.1" font-size="4.3" font-weight="bold" text-anchor="middle" textLength="25.8" lengthAdjust="spacingAndGlyphs" fill="#111" stroke="#111" stroke-width="0.18">WT γKD βKD</text>
<rect x="430.2" y="139.5" width="27.900000000000034" height="16" fill="#9d9d9d"/>
<rect x="430.2" y="157.6" width="27.900000000000034" height="15.6" fill="#979797"/>
<line x1="430.2" y1="175.3" x2="458.1" y2="175.3" stroke="#aaa" stroke-width="1.6"/>
<text x="444.15" y="180.7" font-size="4.7" text-anchor="middle" font-weight="bold" fill="#111"  stroke="#111" stroke-width="0.18">APY+CVX</text>
<text x="469.4" y="136.1" font-size="4.3" font-weight="bold" text-anchor="middle" textLength="16.2" lengthAdjust="spacingAndGlyphs" fill="#111" stroke="#111" stroke-width="0.18">WT γKD</text>
<rect x="460.2" y="139.5" width="21.69999999999999" height="16" fill="#9d9d9d"/>
<rect x="460.2" y="157.6" width="21.69999999999999" height="15.6" fill="#979797"/>
<line x1="460.2" y1="175.3" x2="481.9" y2="175.3" stroke="#aaa" stroke-width="1.6"/>
<text x="471.04999999999995" y="180.7" font-size="4.7" text-anchor="middle" font-weight="bold" fill="#111"  stroke="#111" stroke-width="0.18">TGX+CVX</text>
<rect x="397.1" y="145.3" width="10.299999999999955" height="4.0" rx="2.0" fill="#050505" opacity="1.0" filter="url(#bl)"/>
<rect x="408.6" y="144.89999999999998" width="11.199999999999989" height="4.6" rx="2.3" fill="#050505" opacity="1.0" filter="url(#bl)"/>
<rect x="430.8" y="144.8" width="8.399999999999977" height="3.0" rx="1.5" fill="#111" opacity="1.0" filter="url(#bl)"/>
<rect x="441.0" y="145.29999999999998" width="7.800000000000011" height="2.6" rx="1.3" fill="#222" opacity="1.0" filter="url(#bl)"/>
<rect x="366" y="167.04999999999998" width="8.699999999999989" height="2.1" rx="1.05" fill="#080808" opacity="1.0" filter="url(#bl)"/>
<rect x="376.4" y="166.54999999999998" width="9.100000000000023" height="2.1" rx="1.05" fill="#080808" opacity="1.0" filter="url(#bl)"/>
<rect x="386.7" y="165.95" width="7.300000000000011" height="2.1" rx="1.05" fill="#080808" opacity="1.0" filter="url(#bl)"/>
<rect x="398.3" y="165.95" width="8.300000000000011" height="2.1" rx="1.05" fill="#080808" opacity="1.0" filter="url(#bl)"/>
<rect x="408" y="165.65" width="9" height="2.1" rx="1.05" fill="#080808" opacity="1.0" filter="url(#bl)"/>
<rect x="419.5" y="165.15" width="8.100000000000023" height="2.1" rx="1.05" fill="#080808" opacity="1.0" filter="url(#bl)"/>
<rect x="430.8" y="165.95" width="7.800000000000011" height="2.1" rx="1.05" fill="#080808" opacity="1.0" filter="url(#bl)"/>
<rect x="440.3" y="165.75" width="7.899999999999977" height="2.1" rx="1.05" fill="#080808" opacity="1.0" filter="url(#bl)"/>
<rect x="449.6" y="165.54999999999998" width="7.7999999999999545" height="2.1" rx="1.05" fill="#080808" opacity="1.0" filter="url(#bl)"/>
<rect x="461" y="165.95" width="8.199999999999989" height="2.1" rx="1.05" fill="#080808" opacity="1.0" filter="url(#bl)"/>
<rect x="471" y="165.75" width="8.5" height="2.1" rx="1.05" fill="#080808" opacity="1.0" filter="url(#bl)"/>
<text x="484" y="148.6" font-size="5.4" text-anchor="start" font-weight="bold" fill="#000"  stroke="#000" stroke-width="0.18">Rap1b-GTP</text>
<text x="484" y="167.2" font-size="5.4" text-anchor="start" font-weight="bold" fill="#000"  stroke="#000" stroke-width="0.18">Rap1b</text>
<text x="57.8" y="232.3" font-size="6.1" text-anchor="middle" font-weight="bold" fill="#000"  stroke="#000" stroke-width="0.18">WT</text>
<text x="94" y="232.3" font-size="6.0" text-anchor="middle" font-weight="bold" stroke="#000" stroke-width="0.18"><tspan font-size="4.4" font-weight="normal" fill="#333" dy="0.25">γ</tspan><tspan dy="-0.25">KD</tspan></text>
<text x="131" y="232.3" font-size="6.0" text-anchor="middle" font-weight="bold" stroke="#000" stroke-width="0.18"><tspan font-size="4.4" font-weight="normal" fill="#333" dy="0.25">β</tspan><tspan dy="-0.25">KD</tspan></text>
<line x1="40.3" y1="235.6" x2="74.6" y2="235.6" stroke="#a0a0a0" stroke-width="1.3"/>
<line x1="77.6" y1="235.6" x2="113.8" y2="235.6" stroke="#a0a0a0" stroke-width="1.3"/>
<line x1="116.3" y1="235.6" x2="152" y2="235.6" stroke="#a0a0a0" stroke-width="1.3"/>
<rect x="40.8" y="241.65" width="7.200000000000003" height="3.9" rx="1.75" fill="#000" opacity="0.1" filter="url(#bl2)"/>
<rect x="41.3" y="242.85" width="6.200000000000003" height="1.5" rx="0.75" fill="#333" opacity="1.0" filter="url(#bl)"/>
<rect x="48.3" y="241.25" width="9.100000000000001" height="4.699999999999999" rx="2.15" fill="#000" opacity="0.1" filter="url(#bl2)"/>
<rect x="48.8" y="242.45" width="8.100000000000001" height="2.3" rx="1.15" fill="#0a0a0a" opacity="1.0" filter="url(#bl)"/>
<rect x="58.2" y="241.25" width="8.200000000000003" height="4.699999999999999" rx="2.15" fill="#000" opacity="0.1" filter="url(#bl2)"/>
<rect x="58.7" y="242.45" width="7.200000000000003" height="2.3" rx="1.15" fill="#0a0a0a" opacity="1.0" filter="url(#bl)"/>
<rect x="66.8" y="241.3" width="7.900000000000006" height="4.6" rx="2.1" fill="#000" opacity="0.1" filter="url(#bl2)"/>
<rect x="67.3" y="242.5" width="6.900000000000006" height="2.2" rx="1.1" fill="#0a0a0a" opacity="1.0" filter="url(#bl)"/>
<rect x="79" y="242.6" width="7" height="2.0" rx="1.0" fill="#000" opacity="0.08" filter="url(#bl2)"/>
<rect x="87.5" y="242.6" width="7.5" height="2.0" rx="1.0" fill="#000" opacity="0.1" filter="url(#bl2)"/>
<rect x="96.5" y="242.6" width="7.0" height="2.0" rx="1.0" fill="#000" opacity="0.1" filter="url(#bl2)"/>
<rect x="106" y="242.6" width="7" height="2.0" rx="1.0" fill="#000" opacity="0.08" filter="url(#bl2)"/>
<rect x="117" y="242.6" width="7" height="2.0" rx="1.0" fill="#000" opacity="0.1" filter="url(#bl2)"/>
<rect x="126" y="242.6" width="7" height="2.0" rx="1.0" fill="#000" opacity="0.1" filter="url(#bl2)"/>
<rect x="135" y="242.6" width="7" height="2.0" rx="1.0" fill="#000" opacity="0.08" filter="url(#bl2)"/>
<rect x="144" y="242.6" width="7" height="2.0" rx="1.0" fill="#000" opacity="0.1" filter="url(#bl2)"/>
<rect x="39.7" y="254.10000000000002" width="8.5" height="4.4" rx="2.0" fill="#000" opacity="0.12" filter="url(#bl2)"/>
<rect x="40.2" y="255.3" width="7.5" height="2.0" rx="1.0" fill="#151515" opacity="1.0" filter="url(#bl)"/>
<rect x="49.5" y="254.00000000000003" width="8.5" height="4.6" rx="2.1" fill="#000" opacity="0.12" filter="url(#bl2)"/>
<rect x="50" y="255.20000000000002" width="7.5" height="2.2" rx="1.1" fill="#151515" opacity="1.0" filter="url(#bl)"/>
<rect x="58.7" y="253.95000000000002" width="8.0" height="4.699999999999999" rx="2.15" fill="#000" opacity="0.12" filter="url(#bl2)"/>
<rect x="59.2" y="255.15" width="7.0" height="2.3" rx="1.15" fill="#0a0a0a" opacity="1.0" filter="url(#bl)"/>
<rect x="67.4" y="253.95000000000002" width="7.299999999999997" height="4.699999999999999" rx="2.15" fill="#000" opacity="0.12" filter="url(#bl2)"/>
<rect x="67.9" y="255.15" width="6.299999999999997" height="2.3" rx="1.15" fill="#0a0a0a" opacity="1.0" filter="url(#bl)"/>
<rect x="77.4" y="253.85000000000002" width="9.599999999999994" height="4.9" rx="2.25" fill="#000" opacity="0.12" filter="url(#bl2)"/>
<rect x="77.9" y="255.05" width="8.599999999999994" height="2.5" rx="1.25" fill="#050505" opacity="1.0" filter="url(#bl)"/>
<rect x="87.0" y="253.95000000000002" width="8.700000000000003" height="4.699999999999999" rx="2.15" fill="#000" opacity="0.12" filter="url(#bl2)"/>
<rect x="87.5" y="255.15" width="7.700000000000003" height="2.3" rx="1.15" fill="#111" opacity="1.0" filter="url(#bl)"/>
<rect x="95.7" y="254.00000000000003" width="8.599999999999994" height="4.6" rx="2.1" fill="#000" opacity="0.12" filter="url(#bl2)"/>
<rect x="96.2" y="255.20000000000002" width="7.599999999999994" height="2.2" rx="1.1" fill="#151515" opacity="1.0" filter="url(#bl)"/>
<rect x="105.3" y="254.15000000000003" width="8.700000000000003" height="4.3" rx="1.95" fill="#000" opacity="0.12" filter="url(#bl2)"/>
<rect x="105.8" y="255.35000000000002" width="7.700000000000003" height="1.9" rx="0.95" fill="#2a2a2a" opacity="1.0" filter="url(#bl)"/>
<rect x="116.4" y="254.10000000000002" width="8.699999999999989" height="4.4" rx="2.0" fill="#000" opacity="0.12" filter="url(#bl2)"/>
<rect x="116.9" y="255.3" width="7.699999999999989" height="2.0" rx="1.0" fill="#222" opacity="1.0" filter="url(#bl)"/>
<rect x="125.5" y="254.10000000000002" width="8.699999999999989" height="4.4" rx="2.0" fill="#000" opacity="0.12" filter="url(#bl2)"/>
<rect x="126" y="255.3" width="7.699999999999989" height="2.0" rx="1.0" fill="#222" opacity="1.0" filter="url(#bl)"/>
<rect x="134.5" y="254.10000000000002" width="8.300000000000011" height="4.4" rx="2.0" fill="#000" opacity="0.12" filter="url(#bl2)"/>
<rect x="135" y="255.3" width="7.300000000000011" height="2.0" rx="1.0" fill="#222" opacity="1.0" filter="url(#bl)"/>
<rect x="143.7" y="254.10000000000002" width="7.800000000000011" height="4.4" rx="2.0" fill="#000" opacity="0.12" filter="url(#bl2)"/>
<rect x="144.2" y="255.3" width="6.800000000000011" height="2.0" rx="1.0" fill="#222" opacity="1.0" filter="url(#bl)"/>
<text x="155.0" y="245.3" font-size="5.6" text-anchor="start" font-weight="bold" fill="#000" letter-spacing="0.25" stroke="#000" stroke-width="0.18">P-Akt</text>
<text x="155.6" y="259.0" font-size="5.6" text-anchor="start" font-weight="bold" fill="#000" letter-spacing="0.25" stroke="#000" stroke-width="0.18">Akt</text>
<text x="10.2" y="270.8" font-size="4.0" text-anchor="start" font-weight="bold" fill="#000"  stroke="#000" stroke-width="0.18">time, seconds</text>
<text x="43.6" y="270.8" font-size="4.1" text-anchor="middle" font-weight="bold" fill="#000"  stroke="#000" stroke-width="0.18">0</text>
<text x="52.5" y="270.8" font-size="4.1" text-anchor="middle" font-weight="bold" fill="#000"  stroke="#000" stroke-width="0.18">30</text>
<text x="61.4" y="270.8" font-size="4.1" text-anchor="middle" font-weight="bold" fill="#000"  stroke="#000" stroke-width="0.18">60</text>
<text x="70" y="270.8" font-size="4.1" text-anchor="middle" font-weight="bold" fill="#000"  stroke="#000" stroke-width="0.18">180</text>
<text x="82.1" y="270.8" font-size="4.1" text-anchor="middle" font-weight="bold" fill="#000"  stroke="#000" stroke-width="0.18">0</text>
<text x="90.2" y="270.8" font-size="4.1" text-anchor="middle" font-weight="bold" fill="#000"  stroke="#000" stroke-width="0.18">30</text>
<text x="99.1" y="270.8" font-size="4.1" text-anchor="middle" font-weight="bold" fill="#000"  stroke="#000" stroke-width="0.18">60</text>
<text x="107.7" y="270.8" font-size="4.1" text-anchor="middle" font-weight="bold" fill="#000"  stroke="#000" stroke-width="0.18">180</text>
<text x="121.2" y="270.8" font-size="4.1" text-anchor="middle" font-weight="bold" fill="#000"  stroke="#000" stroke-width="0.18">0</text>
<text x="129.2" y="270.8" font-size="4.1" text-anchor="middle" font-weight="bold" fill="#000"  stroke="#000" stroke-width="0.18">30</text>
<text x="137.9" y="270.8" font-size="4.1" text-anchor="middle" font-weight="bold" fill="#000"  stroke="#000" stroke-width="0.18">60</text>
<text x="146.5" y="270.8" font-size="4.1" text-anchor="middle" font-weight="bold" fill="#000"  stroke="#000" stroke-width="0.18">180</text>
<text x="94.5" y="289.0" font-size="7.5" text-anchor="middle" font-weight="bold" fill="#000" >ADP</text>
<text x="226.2" y="233.2" font-size="6.1" text-anchor="middle" font-weight="bold" fill="#000"  stroke="#000" stroke-width="0.18">WT</text>
<text x="263.8" y="233.2" font-size="6.0" text-anchor="middle" font-weight="bold" stroke="#000" stroke-width="0.18"><tspan font-size="4.4" font-weight="normal" fill="#333" dy="0.25">γ</tspan><tspan dy="-0.25">KD</tspan></text>
<text x="299.0" y="233.2" font-size="6.0" text-anchor="middle" font-weight="bold" stroke="#000" stroke-width="0.18"><tspan font-size="4.4" font-weight="normal" fill="#333" dy="0.25">β</tspan><tspan dy="-0.25">KD</tspan></text>
<line x1="209" y1="236.6" x2="244.1" y2="236.6" stroke="#a0a0a0" stroke-width="1.3"/>
<line x1="246.5" y1="236.6" x2="283.3" y2="236.6" stroke="#a0a0a0" stroke-width="1.3"/>
<line x1="285.2" y1="236.6" x2="313" y2="236.6" stroke="#a0a0a0" stroke-width="1.3"/>
<rect x="208.5" y="238.5" width="105" height="24" fill="#fafafa" filter="url(#bl2)"/>
<rect x="209.6" y="242.29999999999998" width="5.599999999999994" height="1.6" rx="0.8" fill="#000" opacity="0.12" filter="url(#bl)"/>
<rect x="217.9" y="242.29999999999998" width="6.599999999999994" height="1.6" rx="0.8" fill="#222" opacity="1" filter="url(#bl)"/>
<rect x="226.5" y="242.0" width="7.300000000000011" height="2.2" rx="1.1" fill="#050505" opacity="1" filter="url(#bl)"/>
<rect x="236.1" y="242.4" width="5.200000000000017" height="1.4" rx="0.7" fill="#000" opacity="0.15" filter="url(#bl)"/>
<rect x="247.7" y="242.4" width="6.700000000000017" height="1.4" rx="0.7" fill="#000" opacity="0.12" filter="url(#bl)"/>
<rect x="256.3" y="242.29999999999998" width="6.699999999999989" height="1.6" rx="0.8" fill="#222" opacity="1" filter="url(#bl)"/>
<rect x="264.6" y="241.7" width="7.699999999999989" height="2.8" rx="1.4" fill="#000" opacity="1" filter="url(#bl)"/>
<rect x="273.7" y="242.35" width="6.699999999999989" height="1.5" rx="0.75" fill="#000" opacity="0.15" filter="url(#bl)"/>
<rect x="286" y="242.35" width="7" height="1.5" rx="0.75" fill="#000" opacity="0.12" filter="url(#bl)"/>
<rect x="295" y="242.35" width="6" height="1.5" rx="0.75" fill="#000" opacity="0.1" filter="url(#bl)"/>
<rect x="304" y="242.35" width="8" height="1.5" rx="0.75" fill="#000" opacity="0.1" filter="url(#bl)"/>
<rect x="208.5" y="253.5" width="8.300000000000011" height="5.0" rx="2.3" fill="#000" opacity="0.12" filter="url(#bl2)"/>
<rect x="209" y="254.7" width="7.300000000000011" height="2.6" rx="1.3" fill="#050505" opacity="1.0" filter="url(#bl)"/>
<rect x="217.7" y="253.5" width="8.300000000000011" height="5.0" rx="2.3" fill="#000" opacity="0.12" filter="url(#bl2)"/>
<rect x="218.2" y="254.7" width="7.300000000000011" height="2.6" rx="1.3" fill="#050505" opacity="1.0" filter="url(#bl)"/>
<rect x="226.8" y="253.5" width="8.099999999999994" height="5.0" rx="2.3" fill="#000" opacity="0.12" filter="url(#bl2)"/>
<rect x="227.3" y="254.7" width="7.099999999999994" height="2.6" rx="1.3" fill="#050505" opacity="1.0" filter="url(#bl)"/>
<rect x="236.0" y="253.5" width="8.300000000000011" height="5.0" rx="2.3" fill="#000" opacity="0.12" filter="url(#bl2)"/>
<rect x="236.5" y="254.7" width="7.300000000000011" height="2.6" rx="1.3" fill="#050505" opacity="1.0" filter="url(#bl)"/>
<rect x="246.5" y="253.5" width="7.699999999999989" height="5.0" rx="2.3" fill="#000" opacity="0.12" filter="url(#bl2)"/>
<rect x="247" y="254.7" width="6.699999999999989" height="2.6" rx="1.3" fill="#050505" opacity="1.0" filter="url(#bl)"/>
<rect x="255.3" y="253.5" width="7.899999999999977" height="5.0" rx="2.3" fill="#000" opacity="0.12" filter="url(#bl2)"/>
<rect x="255.8" y="254.7" width="6.899999999999977" height="2.6" rx="1.3" fill="#050505" opacity="1.0" filter="url(#bl)"/>
<rect x="264.0" y="253.5" width="8.5" height="5.0" rx="2.3" fill="#000" opacity="0.12" filter="url(#bl2)"/>
<rect x="264.5" y="254.7" width="7.5" height="2.6" rx="1.3" fill="#050505" opacity="1.0" filter="url(#bl)"/>
<rect x="273.5" y="253.5" width="8" height="5.0" rx="2.3" fill="#000" opacity="0.12" filter="url(#bl2)"/>
<rect x="274" y="254.7" width="7" height="2.6" rx="1.3" fill="#050505" opacity="1.0" filter="url(#bl)"/>
<rect x="284.7" y="253.5" width="8.699999999999989" height="5.0" rx="2.3" fill="#000" opacity="0.12" filter="url(#bl2)"/>
<rect x="285.2" y="254.7" width="7.699999999999989" height="2.6" rx="1.3" fill="#050505" opacity="1.0" filter="url(#bl)"/>
<rect x="293.3" y="253.5" width="8.399999999999977" height="5.0" rx="2.3" fill="#000" opacity="0.12" filter="url(#bl2)"/>
<rect x="293.8" y="254.7" width="7.399999999999977" height="2.6" rx="1.3" fill="#050505" opacity="1.0" filter="url(#bl)"/>
<rect x="303.0" y="253.5" width="9.600000000000023" height="5.0" rx="2.3" fill="#000" opacity="0.12" filter="url(#bl2)"/>
<rect x="303.5" y="254.7" width="8.600000000000023" height="2.6" rx="1.3" fill="#050505" opacity="1.0" filter="url(#bl)"/>
<text x="317.9" y="246.0" font-size="5.6" text-anchor="start" font-weight="bold" fill="#000" letter-spacing="0.25" stroke="#000" stroke-width="0.18">P-Akt</text>
<text x="318.5" y="259.8" font-size="5.6" text-anchor="start" font-weight="bold" fill="#000" letter-spacing="0.25" stroke="#000" stroke-width="0.18">Akt</text>
<text x="178.1" y="269.5" font-size="4.0" text-anchor="start" font-weight="bold" fill="#000"  stroke="#000" stroke-width="0.18">time, seconds</text>
<text x="211.7" y="269.5" font-size="4.1" text-anchor="middle" font-weight="bold" fill="#000"  stroke="#000" stroke-width="0.18">0</text>
<text x="219.3" y="269.5" font-size="4.1" text-anchor="middle" font-weight="bold" fill="#000"  stroke="#000" stroke-width="0.18">60</text>
<text x="227.3" y="269.5" font-size="4.1" text-anchor="middle" font-weight="bold" fill="#000"  stroke="#000" stroke-width="0.18">180</text>
<text x="237.3" y="269.5" font-size="4.1" text-anchor="middle" font-weight="bold" fill="#000"  stroke="#000" stroke-width="0.18">180</text>
<text x="250.8" y="269.5" font-size="4.1" text-anchor="middle" font-weight="bold" fill="#000"  stroke="#000" stroke-width="0.18">0</text>
<text x="258.9" y="269.5" font-size="4.1" text-anchor="middle" font-weight="bold" fill="#000"  stroke="#000" stroke-width="0.18">60</text>
<text x="266.9" y="269.5" font-size="4.1" text-anchor="middle" font-weight="bold" fill="#000"  stroke="#000" stroke-width="0.18">180</text>
<text x="277.2" y="269.5" font-size="4.1" text-anchor="middle" font-weight="bold" fill="#000"  stroke="#000" stroke-width="0.18">180</text>
<text x="289.8" y="269.5" font-size="4.1" text-anchor="middle" font-weight="bold" fill="#000"  stroke="#000" stroke-width="0.18">0</text>
<text x="298.7" y="269.5" font-size="4.1" text-anchor="middle" font-weight="bold" fill="#000"  stroke="#000" stroke-width="0.18">60</text>
<text x="307.3" y="269.5" font-size="4.1" text-anchor="middle" font-weight="bold" fill="#000"  stroke="#000" stroke-width="0.18">180</text>
<text x="190.2" y="276.7" font-size="4.0" text-anchor="start" font-weight="bold" fill="#000"  stroke="#000" stroke-width="0.18">TGX221</text>
<text x="211.7" y="276.9" font-size="5.0" text-anchor="middle" font-weight="bold" fill="#000"  stroke="#000" stroke-width="0.18">-</text>
<text x="219.3" y="276.9" font-size="5.0" text-anchor="middle" font-weight="bold" fill="#000"  stroke="#000" stroke-width="0.18">-</text>
<text x="227.3" y="276.9" font-size="5.0" text-anchor="middle" font-weight="bold" fill="#000"  stroke="#000" stroke-width="0.18">-</text>
<text x="237.3" y="276.9" font-size="5.0" text-anchor="middle" font-weight="bold" fill="#000"  stroke="#000" stroke-width="0.18">+</text>
<text x="250.8" y="276.9" font-size="5.0" text-anchor="middle" font-weight="bold" fill="#000"  stroke="#000" stroke-width="0.18">-</text>
<text x="258.9" y="276.9" font-size="5.0" text-anchor="middle" font-weight="bold" fill="#000"  stroke="#000" stroke-width="0.18">-</text>
<text x="266.9" y="276.9" font-size="5.0" text-anchor="middle" font-weight="bold" fill="#000"  stroke="#000" stroke-width="0.18">-</text>
<text x="277.2" y="276.9" font-size="5.0" text-anchor="middle" font-weight="bold" fill="#000"  stroke="#000" stroke-width="0.18">+</text>
<text x="289.8" y="276.9" font-size="5.0" text-anchor="middle" font-weight="bold" fill="#000"  stroke="#000" stroke-width="0.18">-</text>
<text x="298.7" y="276.9" font-size="5.0" text-anchor="middle" font-weight="bold" fill="#000"  stroke="#000" stroke-width="0.18">-</text>
<text x="307.3" y="276.9" font-size="5.0" text-anchor="middle" font-weight="bold" fill="#000"  stroke="#000" stroke-width="0.18">-</text>
<text x="268.0" y="289.0" font-size="7.8" text-anchor="middle" font-weight="bold" fill="#000" >U46619</text>
<text x="388.6" y="231.3" font-size="6.1" text-anchor="middle" font-weight="bold" fill="#000"  stroke="#000" stroke-width="0.18">WT</text>
<text x="425.8" y="231.3" font-size="6.0" text-anchor="middle" font-weight="bold" stroke="#000" stroke-width="0.18"><tspan font-size="4.4" font-weight="normal" fill="#333" dy="0.25">γ</tspan><tspan dy="-0.25">KD</tspan></text>
<text x="459.0" y="231.3" font-size="6.0" text-anchor="middle" font-weight="bold" stroke="#000" stroke-width="0.18"><tspan font-size="4.4" font-weight="normal" fill="#333" dy="0.25">β</tspan><tspan dy="-0.25">KD</tspan></text>
<line x1="374.8" y1="235.3" x2="402.4" y2="235.3" stroke="#a0a0a0" stroke-width="1.3"/>
<line x1="413.8" y1="235.3" x2="439.8" y2="235.3" stroke="#a0a0a0" stroke-width="1.3"/>
<line x1="448.1" y1="235.3" x2="472.2" y2="235.3" stroke="#a0a0a0" stroke-width="1.3"/>
<rect x="375.2" y="237.4" width="27.2" height="8.4" fill="#d2d2d2" filter="url(#bl)"/>
<rect x="413.8" y="237.4" width="25.8" height="8.4" fill="#d2d2d2" filter="url(#bl)"/>
<rect x="375.5" y="240.3" width="7.5" height="3.0" rx="1.5" fill="#9a9a9a" opacity="1.0" filter="url(#bl)"/>
<rect x="384.5" y="240.3" width="8.899999999999977" height="3.0" rx="1.5" fill="#111" opacity="1.0" filter="url(#bl)"/>
<rect x="394.8" y="240.7" width="7.599999999999966" height="3.0" rx="1.5" fill="#b8b8b8" opacity="1.0" filter="url(#bl)"/>
<rect x="414.5" y="240.1" width="6.5" height="3.0" rx="1.5" fill="#7a7a7a" opacity="1.0" filter="url(#bl)"/>
<rect x="421.7" y="240.0" width="9.300000000000011" height="3.2" rx="1.6" fill="#000" opacity="1.0" filter="url(#bl)"/>
<rect x="432" y="240.4" width="7" height="3.2" rx="1.6" fill="#a0a0a0" opacity="1.0" filter="url(#bl)"/>
<rect x="449.5" y="239.4" width="4.800000000000011" height="1.0" rx="0.5" fill="#000" opacity="0.25" filter="url(#bl)"/>
<rect x="377.6" y="253.45000000000002" width="6.199999999999989" height="1.7" rx="0.85" fill="#050505" opacity="1.0" filter="url(#bl)"/>
<rect x="385.2" y="253.45000000000002" width="6.800000000000011" height="1.7" rx="0.85" fill="#050505" opacity="1.0" filter="url(#bl)"/>
<rect x="394.1" y="253.4" width="7.2999999999999545" height="1.8" rx="0.9" fill="#050505" opacity="1.0" filter="url(#bl)"/>
<rect x="415.5" y="253.10000000000002" width="5.800000000000011" height="2.4" rx="1.2" fill="#050505" opacity="1.0" filter="url(#bl)"/>
<rect x="422" y="253.0" width="8" height="2.6" rx="1.3" fill="#050505" opacity="1.0" filter="url(#bl)"/>
<rect x="431.7" y="253.10000000000002" width="6.900000000000034" height="2.4" rx="1.2" fill="#050505" opacity="1.0" filter="url(#bl)"/>
<rect x="448.1" y="253.15" width="7.599999999999966" height="2.3" rx="1.15" fill="#050505" opacity="1.0" filter="url(#bl)"/>
<rect x="457" y="253.15" width="7" height="2.3" rx="1.15" fill="#050505" opacity="1.0" filter="url(#bl)"/>
<rect x="465.3" y="253.15" width="6.599999999999966" height="2.3" rx="1.15" fill="#050505" opacity="1.0" filter="url(#bl)"/>
<text x="476.5" y="244.6" font-size="5.6" text-anchor="start" font-weight="bold" fill="#000" letter-spacing="0.25" stroke="#000" stroke-width="0.18">P-Akt</text>
<text x="477.0" y="258.2" font-size="5.6" text-anchor="start" font-weight="bold" fill="#000" letter-spacing="0.25" stroke="#000" stroke-width="0.18">Akt</text>
<text x="366.2" y="268.0" font-size="4.0" text-anchor="end" font-weight="bold" fill="#000"  stroke="#000" stroke-width="0.18">time, seconds</text>
<text x="379.8" y="268.0" font-size="4.1" text-anchor="middle" font-weight="bold" fill="#000"  stroke="#000" stroke-width="0.18">0</text>
<text x="388.5" y="268.0" font-size="4.1" text-anchor="middle" font-weight="bold" fill="#000"  stroke="#000" stroke-width="0.18">60</text>
<text x="397.9" y="268.0" font-size="4.1" text-anchor="middle" font-weight="bold" fill="#000"  stroke="#000" stroke-width="0.18">60</text>
<text x="417.5" y="268.0" font-size="4.1" text-anchor="middle" font-weight="bold" fill="#000"  stroke="#000" stroke-width="0.18">0</text>
<text x="426.2" y="268.0" font-size="4.1" text-anchor="middle" font-weight="bold" fill="#000"  stroke="#000" stroke-width="0.18">60</text>
<text x="434.8" y="268.0" font-size="4.1" text-anchor="middle" font-weight="bold" fill="#000"  stroke="#000" stroke-width="0.18">60</text>
<text x="451.2" y="268.0" font-size="4.1" text-anchor="middle" font-weight="bold" fill="#000"  stroke="#000" stroke-width="0.18">0</text>
<text x="460.4" y="268.0" font-size="4.1" text-anchor="middle" font-weight="bold" fill="#000"  stroke="#000" stroke-width="0.18">60</text>
<text x="469.2" y="268.0" font-size="4.1" text-anchor="middle" font-weight="bold" fill="#000"  stroke="#000" stroke-width="0.18">180</text>
<text x="366.2" y="275.9" font-size="4.0" text-anchor="end" font-weight="bold" fill="#000"  stroke="#000" stroke-width="0.18">TGX221</text>
<text x="379.8" y="275.2" font-size="5.0" text-anchor="middle" font-weight="bold" fill="#000"  stroke="#000" stroke-width="0.18">-</text>
<text x="388.5" y="275.2" font-size="5.0" text-anchor="middle" font-weight="bold" fill="#000"  stroke="#000" stroke-width="0.18">-</text>
<text x="397.9" y="275.2" font-size="5.0" text-anchor="middle" font-weight="bold" fill="#000"  stroke="#000" stroke-width="0.18">+</text>
<text x="417.5" y="275.2" font-size="5.0" text-anchor="middle" font-weight="bold" fill="#000"  stroke="#000" stroke-width="0.18">-</text>
<text x="426.2" y="275.2" font-size="5.0" text-anchor="middle" font-weight="bold" fill="#000"  stroke="#000" stroke-width="0.18">-</text>
<text x="434.8" y="275.2" font-size="5.0" text-anchor="middle" font-weight="bold" fill="#000"  stroke="#000" stroke-width="0.18">+</text>
<text x="451.2" y="275.2" font-size="5.0" text-anchor="middle" font-weight="bold" fill="#000"  stroke="#000" stroke-width="0.18">-</text>
<text x="460.4" y="275.2" font-size="5.0" text-anchor="middle" font-weight="bold" fill="#000"  stroke="#000" stroke-width="0.18">-</text>
<text x="469.2" y="275.2" font-size="5.0" text-anchor="middle" font-weight="bold" fill="#000"  stroke="#000" stroke-width="0.18">-</text>
<text x="428.6" y="289.0" font-size="7.6" text-anchor="middle" font-weight="bold" fill="#000" >CVX</text>
</svg></body></html>
